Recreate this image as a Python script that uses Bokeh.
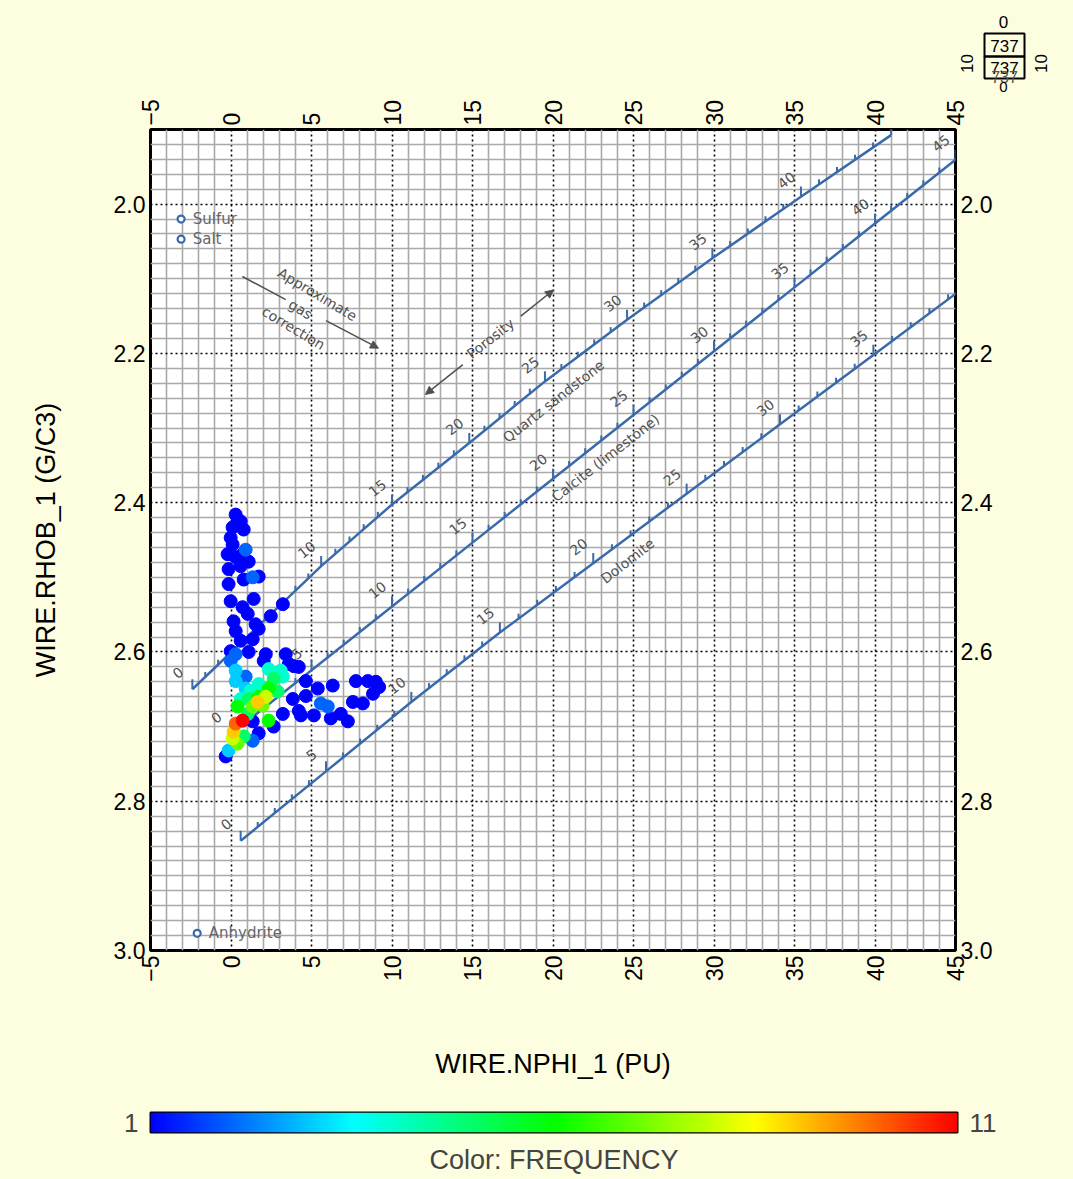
import math
import numpy as np
import pandas as pd
from bokeh.plotting import figure
from bokeh.models import (Range1d, LinearAxis, FixedTicker, PrintfTickFormatter,
                          ColumnDataSource, LinearColorMapper, Arrow, NormalHead)
from bokeh.layouts import column
from bokeh.core.properties import value
from bokeh.embed import file_html
from bokeh.resources import INLINE

# ---------------- data ----------------
nphi = [0.29, 0.60, 0.79, 0.10, -0.02, 0.10, 0.91, 0.72, -0.21, 0.29,
        1.10, -0.15, 0.60, 1.35, 0.79, 1.72, -0.15, -0.02, 0.72, 1.41,
        1.04, 2.47, 3.22, 0.16, 1.53, 0.29, 1.72, 0.60, 1.35, 0.29,
        1.10, 2.03, 0.29, 0.29, 0.91, 2.34, 3.09, 3.59, 1.72, 2.65,
        3.22, 1.22, 1.72, 1.66, 2.34, 2.90, 2.16, 1.35, 1.97, 1.04,
        0.72, 0.29, 0.16, 0.10, 0.41, -0.15, -0.33, 1.35, 1.72, 1.35,
        2.34, 2.65, 3.22, 3.84, 4.21, 4.65, 4.21, 4.65, 3.90, 5.39,
        5.58, 6.01, 6.32, 6.82, 7.26, 7.57, 8.19, 7.76, 8.50, 9.00,
        9.20, 8.82, 4.34, 5.15, 6.20, -0.02, -0.02, 0.91, 0.60, 1.10,
        0.41, 0.79, 3.40, 2.16]
rhob = [2.416, 2.425, 2.436, 2.433, 2.447, 2.456, 2.463, 2.469, 2.469, 2.473,
        2.479, 2.489, 2.485, 2.500, 2.503, 2.499, 2.509, 2.532, 2.540, 2.529,
        2.549, 2.552, 2.536, 2.559, 2.563, 2.572, 2.569, 2.585, 2.583, 2.603,
        2.600, 2.612, 2.625, 2.639, 2.633, 2.623, 2.625, 2.616, 2.643, 2.636,
        2.633, 2.652, 2.660, 2.667, 2.649, 2.653, 2.660, 2.673, 2.672, 2.683,
        2.692, 2.696, 2.707, 2.716, 2.723, 2.732, 2.740, 2.693, 2.709, 2.719,
        2.692, 2.700, 2.683, 2.663, 2.679, 2.659, 2.620, 2.639, 2.619, 2.649,
        2.669, 2.673, 2.645, 2.683, 2.693, 2.667, 2.669, 2.639, 2.639, 2.640,
        2.647, 2.656, 2.685, 2.685, 2.689, 2.599, 2.612, 2.649, 2.663, 2.663,
        2.673, 2.713, 2.603, 2.603]
freq = [1, 1, 1, 1, 1, 1, 2, 1, 1, 1,
        1, 1, 1, 2, 1, 1, 1, 1, 1, 1,
        1, 1, 1, 1, 1, 1, 1, 1, 1, 2,
        1, 1, 3, 3, 2, 4, 4, 1, 4, 5,
        4, 4, 6, 9, 6, 5, 8, 7, 7, 5,
        11, 10, 9, 8, 7, 3, 1, 1, 1, 2,
        6, 1, 1, 1, 1, 1, 1, 1, 1, 1,
        2, 2, 1, 1, 1, 1, 1, 1, 1, 1,
        1, 1, 1, 1, 1, 1, 2, 3, 4, 5,
        6, 5, 1, 1]

x_ticks = [-5, 0, 5, 10, 15, 20, 25, 30, 35, 40, 45]
y_ticks = [2.0, 2.2, 2.4, 2.6, 2.8, 3.0]

# lithology lines (porosity in p.u.)
sand_phi = [0, 5, 10, 15, 20, 25, 30, 35, 40, 45]
sand_nphi = [-2.4, 1.6, 5.6, 10.0, 14.8, 19.5, 24.6, 29.9, 35.4, 41.0]
sand_rhob = [2.650, 2.5675, 2.485, 2.4025, 2.320, 2.2375, 2.155, 2.0725, 1.990, 1.9075]
sand_labels = [0, 5, 10, 15, 20, 25, 30, 35, 40]

lime_phi = [0, 5, 10, 15, 20, 25, 30, 35, 40, 45]
lime_nphi = [0, 5, 10, 15, 20, 25, 30, 35, 40, 45]
lime_rhob = [2.710, 2.6245, 2.539, 2.4535, 2.368, 2.2825, 2.197, 2.1115, 2.026, 1.9405]
lime_labels = [0, 5, 10, 15, 20, 25, 30, 35, 40, 45]

dolo_phi = [0, 5, 10, 15, 20, 25, 30, 35, 40]
dolo_nphi = [0.6, 5.9, 11.2, 16.7, 22.5, 28.3, 34.1, 39.9, 45.7]
dolo_rhob = [2.853, 2.760, 2.667, 2.574, 2.481, 2.388, 2.295, 2.202, 2.109]
dolo_labels = [0, 5, 10, 15, 20, 25, 30, 35]

mineral_names = ["Sulfur", "Salt", "Anhydrite"]
mineral_nphi = [-3.1, -3.1, -2.1]
mineral_rhob = [2.020, 2.047, 2.977]

freq_low, freq_high = 1, 11
point_count = 737

# ---------------- styles ----------------
BG = "#fdfde0"
LINE_BLUE = "#3a6aaa"
NOTE = "#525252"
FONT = "Liberation Sans"
NFONT = value("DejaVu Sans")


def no_align(fig):
    if "frame_align" in fig.properties():
        fig.frame_align = False


def interp_palette(stops, n=256):
    out = []
    for i in range(n):
        t = i / (n - 1) * (len(stops) - 1)
        k = min(int(t), len(stops) - 2)
        f = t - k
        c = [round(stops[k][j] + (stops[k + 1][j] - stops[k][j]) * f) for j in range(3)]
        out.append("#%02x%02x%02x" % tuple(c))
    return out


palette = interp_palette([(0, 0, 255), (0, 255, 255), (0, 255, 0), (255, 255, 0), (255, 0, 0)])
mapper = LinearColorMapper(palette=palette, low=freq_low, high=freq_high)

# ---------------- top strip with the small count box ----------------
TW, TH = 1073, 96
top = figure(width=TW, height=TH, x_range=Range1d(0, TW), y_range=Range1d(TH, 0),
             output_backend="svg", toolbar_location=None, x_axis_location=None,
             y_axis_location=None, min_border=0, min_border_left=0, min_border_right=0,
             min_border_top=0, min_border_bottom=0, background_fill_color=BG,
             border_fill_color=BG, outline_line_color=None)
no_align(top)
top.grid.visible = False
top.quad(left=[984, 984], right=[1024, 1024], top=[33, 56], bottom=[56, 78],
         fill_color=None, line_color="black", line_width=2)
top.text(x=[1004, 1004], y=[45, 67], text=[str(point_count)] * 2, text_align="center",
         text_baseline="middle", text_font=value(FONT), text_font_size="17px",
         text_color="black")
top.text(x=[1004], y=[76], text=[str(point_count)], text_align="center",
         text_baseline="middle", text_font=value(FONT), text_font_size="16px",
         text_color="#555555")
top.text(x=[1003], y=[21], text=["0"], text_align="center",
         text_baseline="middle", text_font=value(FONT), text_font_size="17px",
         text_color="black")
top.text(x=[1003], y=[86], text=["0"], text_align="center",
         text_baseline="middle", text_font=value(FONT), text_font_size="15px",
         text_color="black")
top.text(x=[966, 1040], y=[63, 63], text=["10", "10"], angle=math.pi / 2, text_align="center",
         text_baseline="middle", text_font=value(FONT), text_font_size="17px",
         text_color="black")

# ---------------- main crossplot ----------------
p = figure(width=1073, height=989, x_range=Range1d(-5, 45), y_range=Range1d(3.0, 1.9),
           output_backend="svg", toolbar_location=None,
           min_border_left=150, min_border_right=118, min_border_top=32, min_border_bottom=135,
           background_fill_color="white", border_fill_color=BG,
           outline_line_color="black", outline_line_width=3)
no_align(p)

x_minor = [v for v in range(-5, 46) if v % 5 != 0]
y_minor = []
for i in range(56):
    v = round(1.9 + 0.02 * i, 2)
    if i % 10 != 5:
        y_minor.append(v)

p.xgrid.ticker = FixedTicker(ticks=x_ticks, minor_ticks=x_minor)
p.ygrid.ticker = FixedTicker(ticks=y_ticks, minor_ticks=y_minor)
for g in (p.xgrid, p.ygrid):
    g.grid_line_color = "black"
    g.grid_line_dash = "2 3"
    g.grid_line_width = 1.6
    g.minor_grid_line_color = "#a9a9a9"
    g.minor_grid_line_width = 1.6


def style_axis(ax, ticks, xaxis):
    ax.ticker = FixedTicker(ticks=ticks)
    ax.axis_line_color = None
    ax.major_tick_line_color = None
    ax.minor_tick_line_color = None
    ax.major_tick_out = 0
    ax.major_tick_in = 0
    ax.major_label_text_font = FONT
    ax.major_label_text_font_size = "23px"
    ax.major_label_text_color = "black"
    ax.major_label_standoff = 5
    if xaxis:
        ax.major_label_orientation = math.pi / 2
    else:
        ax.formatter = PrintfTickFormatter(format="%.1f")


bottom_ax = p.below[0]
left_ax = p.left[0]
style_axis(bottom_ax, x_ticks, True)
style_axis(left_ax, y_ticks, False)
top_ax = LinearAxis()
style_axis(top_ax, x_ticks, True)
top_ax.major_label_standoff = 4
p.add_layout(top_ax, "above")
right_ax = LinearAxis()
style_axis(right_ax, y_ticks, False)
p.add_layout(right_ax, "right")

bottom_ax.axis_label = "WIRE.NPHI_1 (PU)"
left_ax.axis_label = "WIRE.RHOB_1 (G/C3)"
for ax, so in ((bottom_ax, 64), (left_ax, 50)):
    ax.axis_label_text_font = FONT
    ax.axis_label_text_font_size = "27px"
    ax.axis_label_text_font_style = "normal"
    ax.axis_label_text_color = "black"
    ax.axis_label_standoff = so

# ---------------- lithology lines ----------------
ANG = math.radians(38)
MAJ_L = 0.0135
MIN_L = 0.0067
for phis, xs, ys, labs in ((sand_phi, sand_nphi, sand_rhob, sand_labels),
                           (lime_phi, lime_nphi, lime_rhob, lime_labels),
                           (dolo_phi, dolo_nphi, dolo_rhob, dolo_labels)):
    p.line(xs, ys, line_color=LINE_BLUE, line_width=2.5)
    ph = np.arange(phis[0], phis[-1] + 1)
    tx = np.interp(ph, phis, xs)
    ty = np.interp(ph, phis, ys)
    tl = np.where(ph % 5 == 0, MAJ_L, MIN_L)
    p.segment(x0=tx, y0=ty, x1=tx, y1=ty - tl, line_color=LINE_BLUE, line_width=2)
    lx = np.interp(labs, phis, xs) - 0.9
    ly = np.interp(labs, phis, ys) - 0.022
    p.text(x=lx, y=ly, text=[str(v) for v in labs], angle=ANG, text_align="center",
           text_baseline="middle", text_font=NFONT, text_font_size="14px",
           text_color=NOTE)

p.text(x=[20.03, 23.26, 24.63], y=[2.264, 2.340, 2.478],
       text=["Quartz sandstone", "Calcite (limestone)", "Dolomite"], angle=ANG,
       text_align="center", text_baseline="middle", text_font=NFONT,
       text_font_size="14px", text_color=NOTE)

ARROW = "#505050"
# porosity arrow
p.text(x=[16.12], y=[2.180], text=["Porosity"], angle=ANG, text_align="center",
       text_baseline="middle", text_font=NFONT, text_font_size="14px", text_color=NOTE)
p.add_layout(Arrow(x_start=14.4, y_start=2.215, x_end=12.08, y_end=2.255,
                   line_color=ARROW, line_width=1.5,
                   end=NormalHead(size=8, fill_color=ARROW, line_color=ARROW)))
p.add_layout(Arrow(x_start=18.0, y_start=2.150, x_end=20.03, y_end=2.115,
                   line_color=ARROW, line_width=1.5,
                   end=NormalHead(size=8, fill_color=ARROW, line_color=ARROW)))

# gas correction arrow
GANG = math.radians(-31)
p.text(x=[5.37, 4.32, 3.88], y=[2.121, 2.141, 2.166], text=["Approximate", "gas", "correction"],
       angle=GANG, text_align="center", text_baseline="middle", text_font=NFONT,
       text_font_size="14px", text_color=NOTE)
p.segment(x0=[0.71], y0=[2.097], x1=[3.4], y1=[2.128], line_color=ARROW, line_width=1.5)
p.add_layout(Arrow(x_start=5.9, y_start=2.156, x_end=9.16, y_end=2.193,
                   line_color=ARROW, line_width=1.5,
                   end=NormalHead(size=8, fill_color=ARROW, line_color=ARROW)))

# ---------------- data points ----------------
df = pd.DataFrame({"nphi": nphi, "rhob": rhob, "freq": freq}).sort_values("freq", kind="stable")
src = ColumnDataSource(df)
p.scatter(x="nphi", y="rhob", source=src, size=13, marker="circle",
          fill_color={"field": "freq", "transform": mapper},
          line_color={"field": "freq", "transform": mapper}, line_width=1)

# minerals
p.scatter(x=mineral_nphi, y=mineral_rhob, size=7, marker="circle", fill_color="white",
          line_color=LINE_BLUE, line_width=2.2)
p.text(x=[v + 0.72 for v in mineral_nphi], y=mineral_rhob, text=mineral_names,
       text_align="left", text_baseline="middle", text_font=NFONT,
       text_font_size="15px", text_color="#666666")

# ---------------- color bar ----------------
cb = figure(width=1073, height=94, x_range=Range1d(freq_low, freq_high), y_range=Range1d(0, 1),
            output_backend="svg", toolbar_location=None,
            min_border_left=150, min_border_right=116, min_border_top=27, min_border_bottom=47,
            border_fill_color=BG, outline_line_color="black", outline_line_width=2)
no_align(cb)
cb.image(image=[np.linspace(freq_low, freq_high, 512).reshape(1, -1)], x=freq_low, y=0,
         dw=freq_high - freq_low, dh=1, color_mapper=mapper)
cb.grid.visible = False

for ax, txt in ((cb.yaxis[0], str(freq_low)), (None, str(freq_high))):
    if ax is None:
        ax = LinearAxis()
        cb.add_layout(ax, "right")
    ax.ticker = FixedTicker(ticks=[0.5])
    ax.major_label_overrides = {0.5: txt}
    ax.axis_line_color = None
    ax.major_tick_line_color = None
    ax.minor_tick_line_color = None
    ax.major_tick_out = 0
    ax.major_tick_in = 0
    ax.major_label_text_font = FONT
    ax.major_label_text_font_size = "26px"
    ax.major_label_standoff = 12

bx = cb.xaxis[0]
bx.ticker = FixedTicker(ticks=[])
bx.axis_line_color = None
bx.major_tick_line_color = None
bx.minor_tick_line_color = None
bx.major_tick_out = 0
bx.axis_label = "Color: FREQUENCY"
bx.axis_label_text_font = FONT
bx.axis_label_text_font_size = "27px"
bx.axis_label_text_font_style = "normal"
bx.axis_label_standoff = 12

layout = column(top, p, cb, styles={"background-color": BG})
open("out.html", "w").write(file_html(layout, INLINE))
